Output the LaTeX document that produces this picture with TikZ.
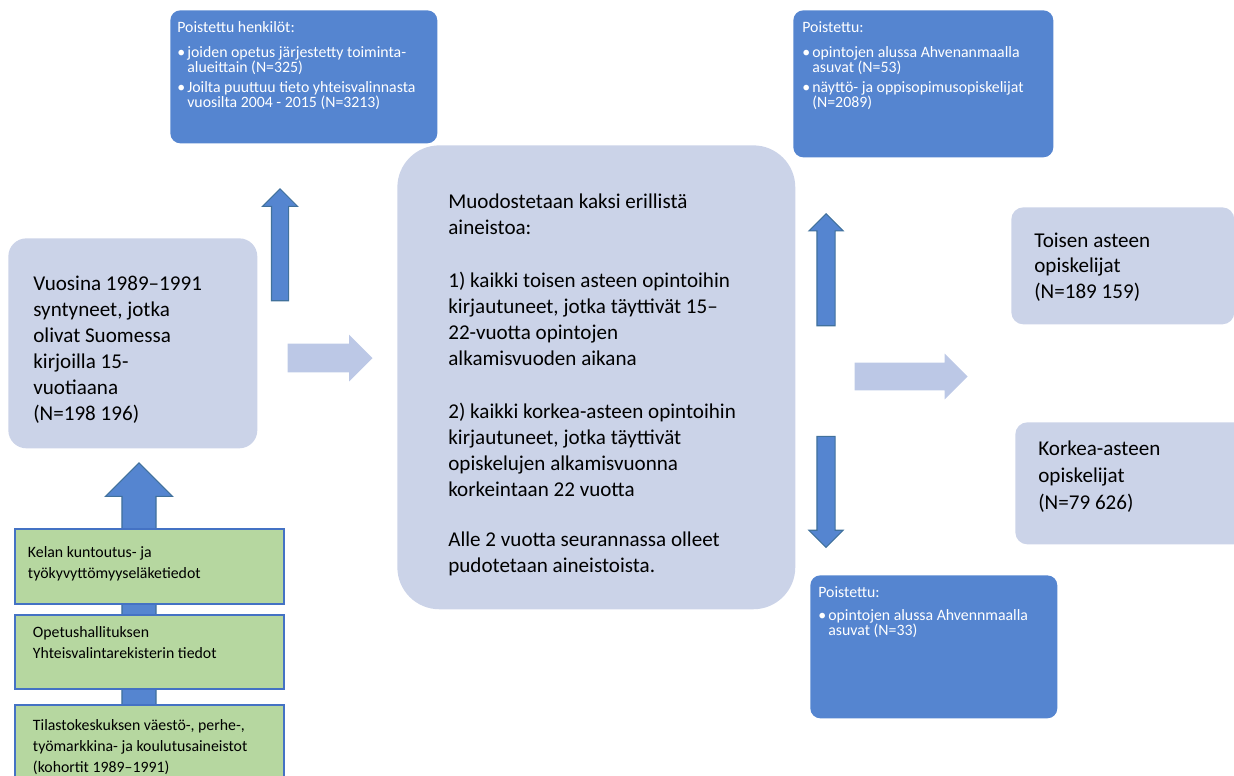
\documentclass[tikz,border=0pt]{standalone}
\usepackage{fontspec}
\setmainfont{Carlito}
\usepackage{tikz}
\usetikzlibrary{shapes.arrows}
\definecolor{boxlight}{HTML}{CBD3E8}
\definecolor{flowlight}{HTML}{BCC8E6}
\definecolor{dropblue}{HTML}{5585D0}
\definecolor{edgeblue}{HTML}{41719C}
\definecolor{srcgreen}{HTML}{B6D7A0}
\definecolor{srcedge}{HTML}{4472C4}

% box text: width, height, left pad, first baseline, content
\makeatletter
\newcommand{\boxtext}[5]{\vbox to #2{\hsize=#1\leftskip=#3\rightskip=0pt plus 1fil
  \parindent=0pt\parskip=0pt\parfillskip=0pt plus 1fil\let\\\@normalcr
  \noindent\rule{0pt}{#4}#5\par\vss}}
\makeatother
\newcommand{\bul}[2][0pt]{\par\vspace{#1}\hangindent=0.2cm\hangafter=1\noindent\makebox[0.2cm][l]{•}#2}

\begin{document}
\begin{tikzpicture}[x=0.02cm, y=-0.02cm,
    lightbox/.style={fill=boxlight, rounded corners=#1, inner sep=0pt, anchor=north west, font=\fontsize{12}{14.8}\selectfont},
    lightbox/.default=0.24cm,
    dropbox/.style={fill=dropblue, rounded corners=0.2cm, inner sep=0pt, anchor=north west, text=white, font=\fontsize{9}{8.5}\selectfont},
    srcbox/.style={fill=srcgreen, draw=srcedge, line width=1.1pt, inner sep=0pt, anchor=north west, font=\fontsize{9}{11.7}\selectfont},
    flow/.style={single arrow, anchor=tip, fill=flowlight, inner xsep=0pt, inner ysep=0.28cm, single arrow head extend=0.18cm},
    drop/.style={single arrow, anchor=tip, fill=dropblue, draw=edgeblue, line width=0.6pt, inner xsep=0pt}
]
    \useasboundingbox (0,0) rectangle (1234,775);

    % big arrow behind the sources
    \node[drop, rotate=90, minimum height=5.16cm, inner ysep=0.33cm, single arrow head extend=0.33cm] (feed) at (139,462) {};

    % sources
    \node[srcbox] (kela) at (14,528) {\boxtext{5.38cm}{1.5cm}{0.26cm}{0.58cm}{Kelan kuntoutus- ja\\työkyvyttömyyseläketiedot}};
    \node[srcbox] (oph) at (14,614) {\boxtext{5.38cm}{1.48cm}{0.36cm}{0.46cm}{Opetushallituksen\\Yhteisvalintarekisterin tiedot}};
    \node[srcbox] (tk) at (14,704) {\boxtext{5.38cm}{1.8cm}{0.36cm}{0.52cm}{Tilastokeskuksen väestö-, perhe-,\\työmarkkina- ja koulutusaineistot\\(kohortit 1989–1991)}};

    % cohort and data sets
    \node[lightbox=0.36cm] (cohort) at (8,238) {\boxtext{4.98cm}{4.2cm}{0.5cm}{1.04cm}{Vuosina 1989–1991\\syntyneet, jotka\\olivat Suomessa\\kirjoilla 15-\\vuotiaana\\(N=198 196)}};
    \node[lightbox=0.84cm] (data) at (397,145) {\boxtext{7.96cm}{9.28cm}{1.02cm}{1.26cm}{Muodostetaan kaksi erillistä\\aineistoa:\par\vspace{0.54cm}
      1) kaikki toisen asteen opintoihin\\kirjautuneet, jotka täyttivät 15–\\22-vuotta opintojen\\alkamisvuoden aikana\par\vspace{0.54cm}
      2) kaikki korkea-asteen opintoihin\\kirjautuneet, jotka täyttivät\\opiskelujen alkamisvuonna\\korkeintaan 22 vuotta\par\vspace{0.48cm}
      Alle 2 vuotta seurannassa olleet\\pudotetaan aineistoista.}};
    \node[lightbox, font=\fontsize{12}{14.5}\selectfont] (second) at (1011,207) {\boxtext{4.46cm}{2.34cm}{0.46cm}{0.8cm}{Toisen asteen\\opiskelijat\\(N=189 159)}};
    \node[lightbox, font=\fontsize{12}{15.4}\selectfont] (higher) at (1015,422) {\boxtext{4.8cm}{2.44cm}{0.46cm}{0.66cm}{Korkea-asteen\\opiskelijat\\(N=79 626)}};

    % removed
    \node[dropbox] (delpers) at (170,10) {\boxtext{5.34cm}{2.66cm}{0.14cm}{0.44cm}{Poistettu henkilöt:
      \bul[0.2cm]{joiden opetus järjestetty toiminta-\\alueittain (N=325)}
      \bul[0.1cm]{Joilta puuttuu tieto yhteisvalinnasta\\vuosilta 2004 - 2015 (N=3213)}}};
    \node[dropbox] (delsec) at (793,10) {\boxtext{5.2cm}{2.94cm}{0.18cm}{0.44cm}{Poistettu:
      \bul[0.2cm]{opintojen alussa Ahvenanmaalla\\asuvat (N=53)}
      \bul[0.1cm]{näyttö- ja oppisopimusopiskelijat\\(N=2089)}}};
    \node[dropbox] (delhigh) at (810,575) {\boxtext{4.94cm}{2.86cm}{0.16cm}{0.44cm}{Poistettu:
      \bul[0.16cm]{opintojen alussa Ahvennmaalla\\asuvat (N=33)}}};

    % arrows
    \node[drop, rotate=90, minimum height=2.24cm, inner ysep=0.16cm, single arrow head extend=0.18cm] (outpers) at (280,188) {};
    \node[flow, minimum height=1.7cm] (tosplit) at (373,358) {};
    \node[drop, rotate=90, minimum height=2.24cm, inner ysep=0.17cm, single arrow head extend=0.16cm] (outsec) at (826,213) {};
    \node[drop, rotate=-90, minimum height=2.22cm, inner ysep=0.17cm, single arrow head extend=0.16cm] (outhigh) at (826,548) {};
    \node[flow, minimum height=2.26cm, inner ysep=0.27cm] (toresult) at (968,376.5) {};
\end{tikzpicture}
\end{document}
